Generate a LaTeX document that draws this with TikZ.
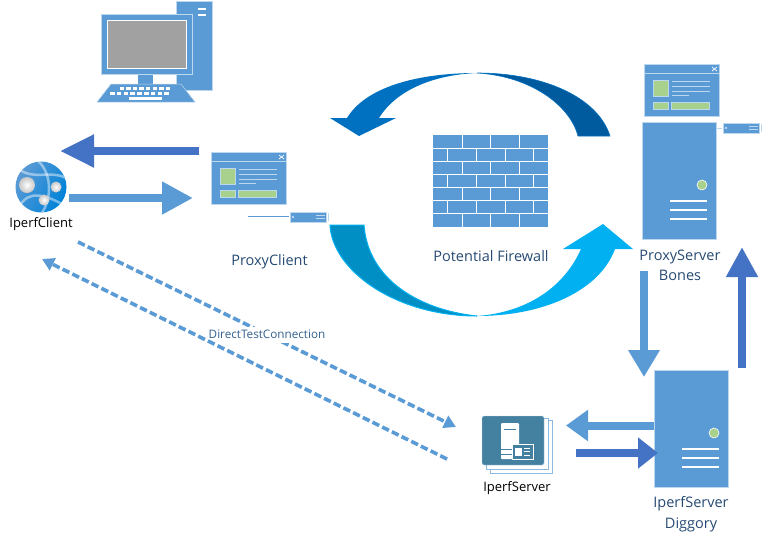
\documentclass[tikz,border=0pt]{standalone}
\usepackage{fontspec}
\setmainfont{Open Sans}
\usetikzlibrary{arrows.meta,shapes.geometric}
\definecolor{iconblue}{HTML}{5B9BD5}
\definecolor{iconedge}{HTML}{BDD7EE}
\definecolor{darkarrow}{HTML}{4472C4}
\definecolor{icongreen}{HTML}{A9D18E}
\definecolor{labelblue}{HTML}{264A73}
\definecolor{cardteal}{HTML}{44809F}
\definecolor{topdark}{HTML}{005A9E}
\definecolor{topblue}{HTML}{0070C0}
\definecolor{lowdark}{HTML}{008FC4}
\definecolor{lowblue}{HTML}{00B0F0}
\tikzset{
  panel/.style={fill=iconblue,draw=iconedge,line width=0.6pt},
  greenbox/.style={fill=icongreen,draw=iconedge,line width=0.6pt},
  whiteline/.style={draw=white,line width=1pt},
  pics/appwindow/.style={code={
    \draw[panel] (0,0) rectangle (75,52);
    \draw[iconedge,line width=0.8pt] (0,9) -- (75,9);
    \draw[white,line width=0.7pt] (68,3) -- (73,7) (68,7) -- (73,3);
    \draw[greenbox] (9,16) rectangle (24,32);
    \draw[greenbox] (9,38) rectangle (24,45);
    \draw[greenbox] (27,38) rectangle (65,45);
    \foreach \rowy/\rowend in {17/66,22/66,27/66,31/45}
      \draw[iconedge,line width=0.9pt] (28,\rowy) -- (\rowend,\rowy);
  }},
  pics/nic/.style={code={
    \draw[panel] (0,0) rectangle (36,10);
    \fill[iconedge] (3,5) circle (1.3);
    \draw[iconedge,line width=1pt] (26,3.7) -- (35,3.7) (26,6.3) -- (35,6.3);
    \draw[iconedge,line width=0.6pt] (38,1) -- (38,9);
  }},
  pics/towerfront/.style={code={
    \draw[greenbox,draw=white] (60,63) circle (5);
    \foreach \rowy in {79,88,97}
      \draw[white,line width=2.2pt] (28,\rowy) -- (65,\rowy);
  }}
}
\begin{document}
\begin{tikzpicture}[x=1pt,y=-1pt]
  \tikzstyle{every node} = [inner sep=0pt];
  \tikzstyle{tower} = [rectangle,panel,minimum width=74pt,minimum height=117pt];
  \tikzstyle{bluename} = [font=\fontsize{14.5}{20.5}\selectfont,text=labelblue,align=center];
  \tikzstyle{blackname} = [font=\fontsize{13}{15}\selectfont,text=black];
  \tikzstyle{lightblock} = [draw=iconblue,line width=8pt];
  \tikzstyle{darkblock} = [draw=darkarrow,line width=8pt];
  \tikzstyle{dashedlink} = [draw=iconblue,line width=3.6pt,dash pattern=on 7.5pt off 3.3pt,-{Triangle[length=12pt,width=13pt]}];
  \tikzstyle{ball} = [inner color=white,outer color=black!22];
  \useasboundingbox (0,0) rectangle (763,542);

  \draw[panel,line width=0.5pt] (176,1) rectangle (212,90);
  \draw[white,line width=2.6pt] (198,9) -- (206,9) (198,15) -- (206,15);
  \fill[iconblue] (138,72) rectangle (153,86);
  \draw[panel] (101,14) rectangle (192,74);
  \draw[fill=black!37,draw=white,line width=0.8pt] (107,20) rectangle (186,68);
  \draw[panel,line width=0.5pt] (111,84) -- (181,84) -- (195,102) -- (97,102) -- cycle;
  \foreach \keyx in {0,...,7}
    \fill[white] (119.5+\keyx*6.6,87) rectangle +(4.5,2.6);
  \foreach \keyx in {0,...,8}
    \fill[white] (110+\keyx*6.8,92) rectangle +(4.5,2.6);
  \fill[white] (129,96.5) rectangle (162,99.5);

  \node (client) at (41,187) [circle,minimum size=51pt,left color=iconblue,right color=blue!40!cyan!85!black,shading angle=60] {};
  \begin{scope}
    \clip (41,187) circle (25.5);
    \draw[white,opacity=0.45,line width=2.5pt] (20,170) .. controls (35,180) and (50,170) .. (66,178);
    \draw[white,opacity=0.45,line width=2.5pt] (37,160) .. controls (55,175) and (50,205) .. (40,215);
    \draw[white,opacity=0.45,line width=2.5pt] (20,205) .. controls (30,190) and (45,195) .. (62,204);
  \end{scope}
  \shade[ball] (27,185) circle (8);
  \shade[ball] (56,187) circle (5.5);
  \shade[ball] (44,200) circle (5.5);
  \node (clientname) at (41,224) [blackname] {IperfClient};

  \pic at (211,152) {appwindow};
  \pic at (290,212) {nic};
  \coordinate (clientcardend) at (248,216);
  \coordinate (clientcard) at (289,216);
  \draw[iconblue,line width=0.7pt] (clientcardend) -- (clientcard);
  \node (proxyclient) at (269.5,262) [bluename] {ProxyClient};

  \fill[iconblue] (433,135) rectangle (548,227);
  \foreach \row in {1,...,6}
    \draw[whiteline] (433,135+\row*13.14) -- (548,135+\row*13.14);
  \foreach \row in {0,2,4,6}
    \foreach \brick in {462,490.5,519}
      \draw[whiteline] (\brick,135+\row*13.14) -- +(0,13.14);
  \foreach \row in {1,3,5}
    \foreach \brick in {447,476,505,533.5}
      \draw[whiteline] (\brick,135+\row*13.14) -- +(0,13.14);
  \node (firewall) at (491,256) [bluename] {Potential Firewall};

  \path[fill=topdark,draw=topblue,line width=0.6pt]
    (477,73) .. controls (545,73) and (598,98) .. (610,136) -- (578,136) .. controls (570,105) and (530,76) .. (477,73) -- cycle;
  \path[fill=topblue]
    (477,73) .. controls (415,73) and (365,88) .. (347,118) -- (330,118) -- (359,136) -- (396,118) -- (379,118) .. controls (395,92) and (430,75) .. (477,73) -- cycle;
  \path[fill=lowdark,draw=lowblue,line width=1pt]
    (330,225) .. controls (332,270) and (395,316) .. (477,316) .. controls (420,310) and (368,280) .. (364,225) -- cycle;
  \path[fill=lowblue]
    (477,316) .. controls (545,316) and (600,290) .. (615,249) -- (633,249) -- (603,224) -- (563,249) -- (581,249) .. controls (565,285) and (530,312) .. (477,316) -- cycle;

  \pic at (644,64) {appwindow};
  \node (bones) at (679,180.5) [tower] {};
  \pic at (642,122) {towerfront};
  \pic at (723,123) {nic};
  \coordinate (bonescard) at (722,128);
  \draw[iconedge,line width=1pt] (bones.east |- bonescard) -- (bonescard);
  \node (bonesname) at (680,265.5) [bluename] {ProxyServer\\Bones};

  \node (diggory) at (691,428.5) [tower] {};
  \pic at (654,370) {towerfront};
  \node (diggoryname) at (691,514) [bluename] {IperfServer\\Diggory};

  \draw[fill=white,draw=iconblue!70,line width=0.7pt] (490,420) rectangle (552,473);
  \draw[fill=white,draw=iconblue!70,line width=0.7pt] (486,418) rectangle (548,469);
  \node (iperfserver) at (513,440.5) [rectangle,rounded corners=2pt,fill=cardteal,draw=iconedge,line width=0.4pt,minimum width=62pt,minimum height=49pt] {};
  \fill[white,rounded corners=1pt] (501,423) rectangle (519,459);
  \draw[cardteal,line width=1pt] (504,429) -- (516,429);
  \draw[cardteal,line width=0.8pt] (501,449) -- (512,449) (501,454) -- (512,454);
  \draw[fill=cardteal,draw=white,line width=0.9pt] (512,444) rectangle (533,459);
  \fill[white] (515,447.5) rectangle (522,455.5);
  \draw[white,line width=0.8pt] (524,448) -- (530,448) (524,451.5) -- (530,451.5) (524,455) -- (530,455);
  \node (iperfname) at (517,488) [blackname] {IperfServer};

  \coordinate (a1) at (199,151);
  \coordinate (a2) at (60,151);
  \coordinate (b1) at (69,198);
  \coordinate (b2) at (193,198);
  \coordinate (c1) at (644,271);
  \coordinate (c2) at (644,377);
  \coordinate (d1) at (742,368);
  \coordinate (d2) at (742,247);
  \coordinate (e1) at (654,425.5);
  \coordinate (e2) at (566,425.5);
  \coordinate (f1) at (576,453);
  \coordinate (f2) at (658,453);
  \coordinate (g1) at (78,242);
  \coordinate (g2) at (456,427);
  \coordinate (h1) at (447,459);
  \coordinate (h2) at (42,259);
  \draw[darkblock,-{Triangle[length=34pt,width=31pt]}] (a1) -- (a2);
  \draw[lightblock,-{Triangle[length=31pt,width=31pt]}] (b1) -- (b2);
  \draw[lightblock,-{Triangle[length=27pt,width=30pt]}] (c1) -- (c2);
  \draw[darkblock,-{Triangle[length=30pt,width=30pt]}] (d1) -- (d2);
  \draw[lightblock,-{Triangle[length=22pt,width=30pt]}] (e1) -- (e2);
  \draw[darkblock,-{Triangle[length=20pt,width=30pt]}] (f1) -- (f2);
  \draw[dashedlink] (g1) -- (g2);
  \node (direct) at (267,334.5) [fill=white,minimum height=16pt,font=\fontsize{11.7}{13}\selectfont,text=labelblue!70!iconblue] {DirectTestConnection};
  \draw[dashedlink] (h1) -- (h2);
\end{tikzpicture}
\end{document}
